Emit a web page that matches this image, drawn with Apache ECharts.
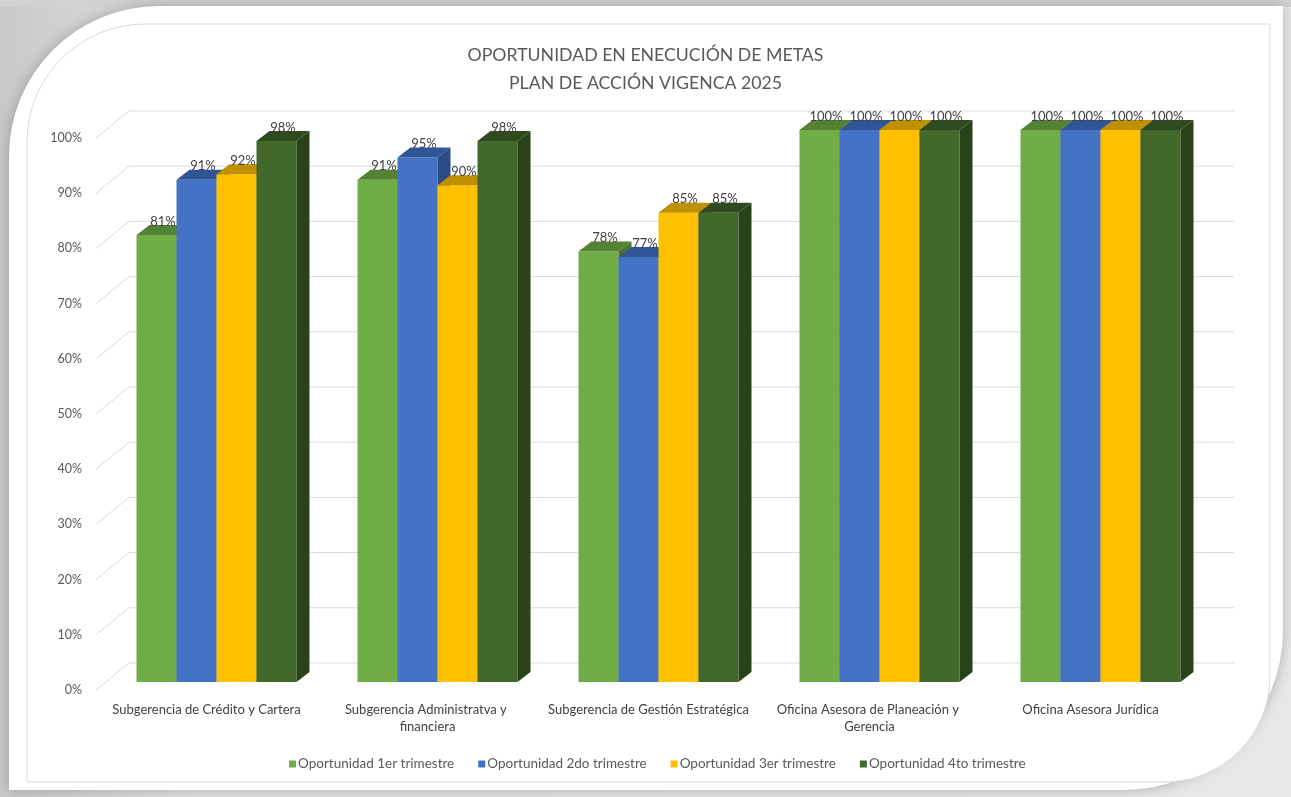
<!DOCTYPE html>
<html>
<head>
<meta charset="utf-8">
<script src="https://cdn.jsdelivr.net/npm/echarts@6/dist/echarts.min.js"></script>
<style>
html,body{margin:0;padding:0;background:#fff;}
#chart{width:1291px;height:797px;}
</style>
</head>
<body>
<div id="chart"></div>
<script>
const titleLines = ['OPORTUNIDAD EN ENECUCIÓN DE METAS', 'PLAN DE ACCIÓN VIGENCA 2025'];
const categories = [
  'Subgerencia de Crédito y Cartera',
  'Subgerencia Administratva y financiera',
  'Subgerencia de Gestión Estratégica',
  'Oficina Asesora de Planeación y Gerencia',
  'Oficina Asesora Jurídica'
];
const seriesNames = [
  'Oportunidad 1er trimestre',
  'Oportunidad 2do trimestre',
  'Oportunidad 3er trimestre',
  'Oportunidad 4to trimestre'
];
const q1 = [81, 91, 78, 100, 100];
const q2 = [91, 95, 77, 100, 100];
const q3 = [92, 90, 85, 100, 100];
const q4 = [98, 98, 85, 100, 100];
const yTicks = [0, 10, 20, 30, 40, 50, 60, 70, 80, 90, 100];

const seriesValues = [q1, q2, q3, q4];
const frontColors = ['#70AD47', '#4472C4', '#FFC000', '#43682B'];
const topColors   = ['#548235', '#2F5597', '#BF9000', '#2F4A1E'];
const sideColors  = ['#4B7330', '#2A4C87', '#A87F00', '#2A421A'];

const WALL_DX = 33, WALL_DY = -27;
const BAR_DX = 13, BAR_DY = -10;
const FONT = 'Lato, "Open Sans", sans-serif';

const chart = echarts.init(document.getElementById('chart'), null, {renderer: 'canvas'});

function wallRender(params, api) {
  const t = api.value(1);
  const first = api.coord([0, t]);
  const last = api.coord([categories.length - 1, t]);
  const band = api.size([1, 0])[0];
  const xl = first[0] - band / 2;
  const xr = last[0] + band / 2;
  const y = first[1];
  return {
    type: 'polyline',
    shape: {points: [[xl, y], [xl + WALL_DX, y + WALL_DY], [xr + WALL_DX, y + WALL_DY]]},
    style: {stroke: '#D9D9D9', lineWidth: 1, fill: null}
  };
}

function makeBarRender(si) {
  return function (params, api) {
    const cat = api.value(0);
    const v = api.value(1);
    const base = api.coord([cat, 0]);
    const top = api.coord([cat, v]);
    const band = api.size([1, 0])[0];
    const bw = band * 0.181;
    const x0 = base[0] - 2 * bw + si * bw;
    const yt = top[1], yb = base[1];
    return {
      type: 'group',
      children: [
        {type: 'rect', shape: {x: x0, y: yt, width: bw, height: yb - yt},
         style: {fill: frontColors[si]}},
        {type: 'polygon', shape: {points: [[x0, yt], [x0 + bw, yt], [x0 + bw + BAR_DX, yt + BAR_DY], [x0 + BAR_DX, yt + BAR_DY]]},
         style: {fill: topColors[si]}},
        {type: 'polygon', shape: {points: [[x0 + bw, yt], [x0 + bw + BAR_DX, yt + BAR_DY], [x0 + bw + BAR_DX, yb + BAR_DY], [x0 + bw, yb]]},
         style: {fill: sideColors[si]}},
        {type: 'text', x: x0 + bw / 2 + BAR_DX / 2, y: yt + BAR_DY + 3,
         style: {text: v + '%', fill: '#404040', font: '13px ' + FONT, align: 'center', verticalAlign: 'bottom'}}
      ]
    };
  };
}

const series = [{
  type: 'custom',
  name: 'wall',
  xAxisIndex: 0, yAxisIndex: 0,
  renderItem: wallRender,
  data: yTicks.map(t => [0, t]),
  silent: true,
  z: 1
}];
seriesValues.forEach((vals, si) => {
  series.push({
    type: 'custom',
    name: seriesNames[si],
    xAxisIndex: 1, yAxisIndex: 1,
    renderItem: makeBarRender(si),
    itemStyle: {color: frontColors[si]},
    data: vals.map((v, i) => [i, v]),
    z: 2
  });
});

const option = {
  animation: false,
  backgroundColor: '#E4E4E4',
  graphic: {
    elements: [
      {type: 'rect', z: -20, shape: {x: 0, y: 0, width: 1291, height: 797},
       style: {fill: new echarts.graphic.LinearGradient(0, 0, 1, 0, [
         {offset: 0, color: '#C9C9C9'}, {offset: 0.15, color: '#E2E2E2'}, {offset: 1, color: '#E8E8E8'}])}},
      {type: 'rect', z: -19, shape: {x: 0, y: 0, width: 1291, height: 7}, style: {fill: '#D2D2D2'}},
      {type: 'rect', z: -18, shape: {x: 9, y: 6, width: 1274, height: 784, r: [150, 0, 160, 0]},
       style: {fill: '#FFFFFF', shadowBlur: 14, shadowColor: 'rgba(0,0,0,0.25)'}},
      {type: 'rect', z: -17, shape: {x: 27, y: 24, width: 1243, height: 758, r: [118, 0, 105, 0]},
       style: {fill: '#FFFFFF', stroke: '#D9D9D9', lineWidth: 1}}
    ]
  },
  title: {
    text: titleLines.join('\n'),
    left: 'center',
    top: 36,
    textStyle: {fontFamily: FONT, fontSize: 17.7, fontWeight: 'normal', color: '#595959', lineHeight: 28}
  },
  legend: {
    data: seriesNames,
    top: 752,
    left: 284,
    icon: 'rect',
    itemWidth: 7,
    itemHeight: 7,
    itemGap: 24,
    textStyle: {fontFamily: FONT, fontSize: 13.5, color: '#595959', padding: [0, 0, 0, -3]}
  },
  grid: [
    {left: 96, top: 138, width: 1105, height: 552},
    {left: 106, top: 130, width: 1105, height: 552}
  ],
  xAxis: [
    {type: 'category', gridIndex: 0, data: categories,
     axisLine: {show: false}, axisTick: {show: false},
     axisLabel: {margin: 11, fontFamily: FONT, fontSize: 13, color: '#404040', width: 220, overflow: 'break', lineHeight: 17, interval: 0, hideOverlap: false}},
    {type: 'category', gridIndex: 1, data: categories, show: false}
  ],
  yAxis: [
    {type: 'value', gridIndex: 0, min: 0, max: 100, interval: 10,
     axisLine: {show: false}, axisTick: {show: false}, splitLine: {show: false},
     axisLabel: {formatter: '{value}%', margin: 14, fontFamily: FONT, fontSize: 12.5, color: '#595959'}},
    {type: 'value', gridIndex: 1, min: 0, max: 100, interval: 10, show: false}
  ],
  series: series
};
chart.setOption(option);
</script>
</body>
</html>
